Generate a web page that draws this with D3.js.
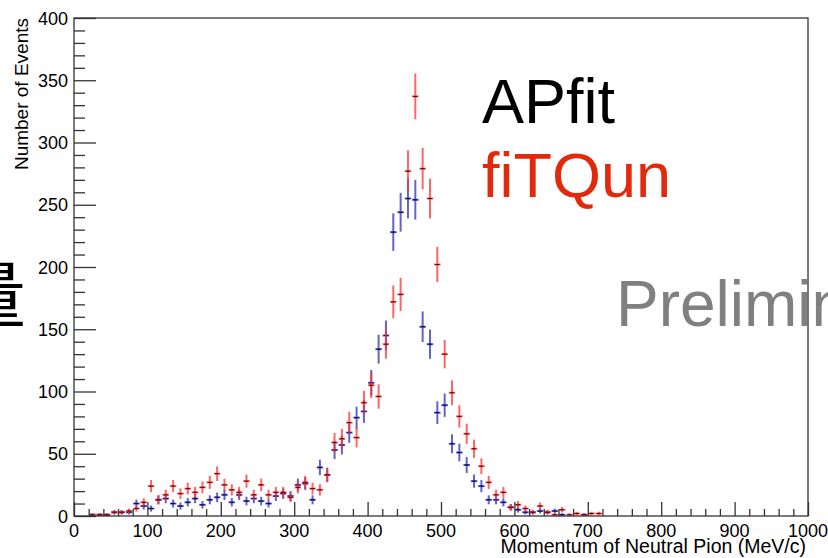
<!DOCTYPE html>
<html>
<head>
<meta charset="utf-8">
<script src="https://cdn.jsdelivr.net/npm/d3@7"></script>
<style>
  html, body { margin: 0; padding: 0; background: #fff; overflow: hidden; }
  svg { display: block; }
  text { font-family: "Liberation Sans", Arial, Helvetica, sans-serif; }
</style>
</head>
<body>
<svg id="chart" width="828" height="558"></svg>
<script>
// bin centres of the 10 MeV/c histogram bins
const binCenters = [
  5, 15, 25, 35, 45, 55, 65, 75, 85, 95,
  105, 115, 125, 135, 145, 155, 165, 175, 185, 195,
  205, 215, 225, 235, 245, 255, 265, 275, 285, 295,
  305, 315, 325, 335, 345, 355, 365, 375, 385, 395,
  405, 415, 425, 435, 445, 455, 465, 475, 485, 495,
  505, 515, 525, 535, 545, 555, 565, 575, 585, 595,
  605, 615, 625, 635, 645, 655, 665, 675, 685, 695,
  705, 715,
];

// APfit (blue)
const apfitCounts = [
  0, 0, 1, 1, 1, 3, 3, 3, 10, 8,
  6, 13, 14, 10, 8, 11, 14, 9, 13, 15,
  17, 11, 17, 12, 14, 12, 10, 16, 18, 16,
  25, 26, 13, 39, 33, 53, 57, 67, 79, 84,
  107, 134, 145, 228, 244, 255, 254, 152, 138, 83,
  89, 58, 51, 41, 28, 24, 13, 13, 11, 7,
  5, 3, 3, 4, 3, 4, 1, 0, 0, 1,
  0, 0,
];

// fiTQun (red)
const fitqunCounts = [
  0, 0, 1, 1, 1, 3, 3, 4, 6, 11,
  24, 13, 17, 24, 18, 22, 19, 23, 27, 34,
  25, 21, 19, 28, 17, 25, 17, 19, 19, 15,
  23, 27, 22, 21, 33, 59, 62, 75, 63, 91,
  105, 96, 138, 172, 178, 277, 337, 279, 255, 202,
  130, 99, 80, 66, 54, 40, 27, 17, 19, 7,
  9, 6, 3, 8, 3, 1, 5, 1, 2, 1,
  2, 2,
];

const binWidth = 10;
const xTicks = [0, 100, 200, 300, 400, 500, 600, 700, 800, 900, 1000];
const yTicks = [0, 50, 100, 150, 200, 250, 300, 350, 400];

const svg = d3.select("#chart");
const margin = { top: 18, right: 20, bottom: 42, left: 74 };
const width = 828;
const height = 558;

const x = d3.scaleLinear().domain([0, 1000]).range([margin.left, width - margin.right]);
const y = d3.scaleLinear().domain([0, 400]).range([height - margin.bottom, margin.top]);

// partially hidden slide character on the far left
svg.append("text")
  .attr("x", 26)
  .attr("y", 321)
  .attr("text-anchor", "end")
  .style("font-family", '"Noto Sans CJK JP", "Noto Sans CJK SC", sans-serif')
  .style("font-size", "72px")
  .attr("fill", "#000")
  .text("量");

// big labels
svg.append("text")
  .attr("x", 482).attr("y", 123)
  .style("font-size", "63px")
  .attr("fill", "#000")
  .text("APfit");

svg.append("text")
  .attr("x", 482).attr("y", 197)
  .style("font-size", "63px")
  .attr("fill", "#e3290b")
  .text("fiTQun");

svg.append("text")
  .attr("x", 616).attr("y", 326)
  .style("font-size", "64px")
  .attr("fill", "#808080")
  .text("Preliminary");

// error-bar histograms
const drawSeries = (counts, light, dark, id) => {
  const data = binCenters
    .map((c, i) => ({ c, n: counts[i] }))
    .filter((d) => d.n > 0);
  const g = svg.append("g").attr("id", id);

  g.selectAll("line.v")
    .data(data)
    .join("line")
    .attr("class", "v")
    .attr("x1", (d) => x(d.c))
    .attr("x2", (d) => x(d.c))
    .attr("y1", (d) => y(d.n + Math.sqrt(d.n)))
    .attr("y2", (d) => y(Math.max(0, d.n - Math.sqrt(d.n))))
    .attr("stroke", light)
    .attr("stroke-width", 2);

  g.selectAll("line.h")
    .data(data)
    .join("line")
    .attr("class", "h")
    .attr("x1", (d) => x(d.c - binWidth * 0.45))
    .attr("x2", (d) => x(d.c + binWidth * 0.45))
    .attr("y1", (d) => y(d.n))
    .attr("y2", (d) => y(d.n))
    .attr("stroke", light)
    .attr("stroke-width", 2);

  g.selectAll("line.c")
    .data(data)
    .join("line")
    .attr("class", "c")
    .attr("x1", (d) => x(d.c - binWidth * 0.3))
    .attr("x2", (d) => x(d.c + binWidth * 0.3))
    .attr("y1", (d) => y(d.n))
    .attr("y2", (d) => y(d.n))
    .attr("stroke", dark)
    .attr("stroke-width", 1);
};

drawSeries(apfitCounts, "rgba(60,60,190,0.8)", "#000050", "apfitGroup");
drawSeries(fitqunCounts, "rgba(255,50,50,0.75)", "#500000", "fitqunGroup");

// frame
svg.append("rect")
  .attr("x", x(0))
  .attr("y", y(400))
  .attr("width", x(1000) - x(0))
  .attr("height", y(0) - y(400))
  .attr("fill", "none")
  .attr("stroke", "#333")
  .attr("stroke-width", 1.3);

// y axis: major every 50, minor every 10
const yAxis = d3.axisRight(y)
  .tickValues(d3.range(0, 401, 10))
  .tickSize(11)
  .tickFormat("");
const yG = svg.append("g").attr("transform", `translate(${x(0)},0)`).call(yAxis);
yG.select(".domain").remove();
yG.selectAll(".tick line")
  .attr("x2", (d) => (d % 50 === 0 ? 22 : 11))
  .attr("stroke", "#333")
  .attr("stroke-width", 1.3);

svg.append("g")
  .selectAll("text")
  .data(yTicks)
  .join("text")
  .attr("x", x(0) - 6)
  .attr("y", (d) => y(d) + 6.5)
  .attr("text-anchor", "end")
  .style("font-size", "18px")
  .attr("fill", "#000")
  .text((d) => d);

// x axis: major every 100, minor every 20
const xAxis = d3.axisTop(x)
  .tickValues(d3.range(0, 1001, 20))
  .tickSize(7)
  .tickFormat("");
const xG = svg.append("g").attr("transform", `translate(0,${y(0)})`).call(xAxis);
xG.select(".domain").remove();
xG.selectAll(".tick line")
  .attr("y2", (d) => (d % 100 === 0 ? -14 : -7))
  .attr("stroke", "#333")
  .attr("stroke-width", 1.3);

svg.append("g")
  .selectAll("text")
  .data(xTicks)
  .join("text")
  .attr("x", (d) => x(d))
  .attr("y", 537)
  .attr("text-anchor", "middle")
  .style("font-size", "18px")
  .attr("fill", "#000")
  .text((d) => d);

// axis titles
svg.append("text")
  .attr("x", 806)
  .attr("y", 553)
  .attr("text-anchor", "end")
  .style("font-size", "19.5px")
  .attr("fill", "#000")
  .text("Momentum of Neutral Pion (MeV/c)");

svg.append("text")
  .attr("transform", `translate(28,${y(400)}) rotate(-90)`)
  .attr("text-anchor", "end")
  .style("font-size", "19px")
  .attr("fill", "#000")
  .text("Number of Events");
</script>
</body>
</html>
